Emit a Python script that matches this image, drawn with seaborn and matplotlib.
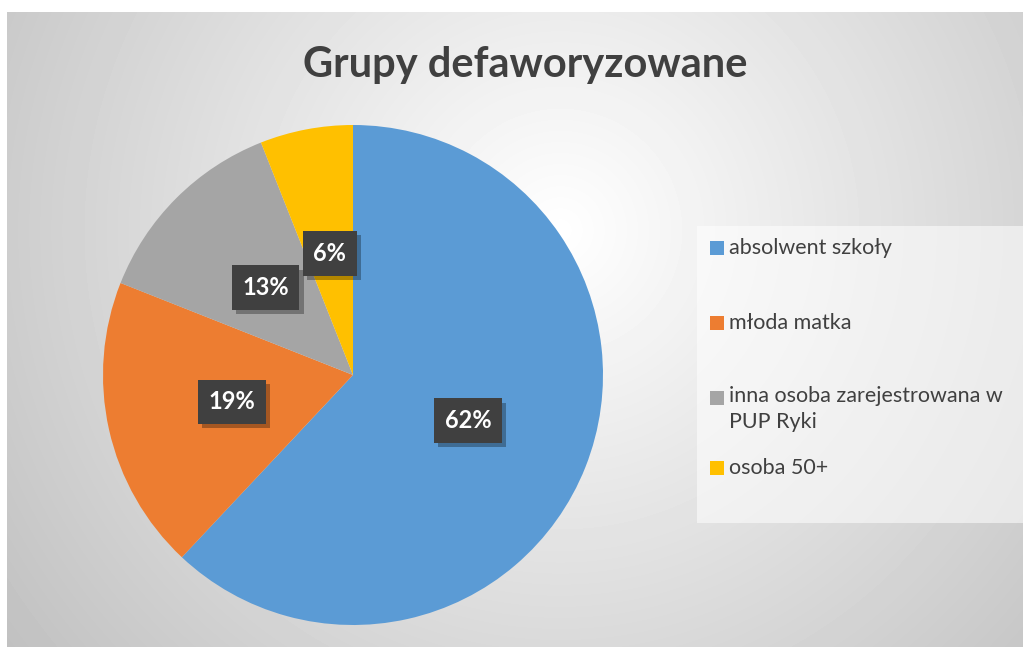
import numpy as np
import matplotlib
matplotlib.use("Agg")
import matplotlib.pyplot as plt
import matplotlib.patheffects as pe
from matplotlib.patches import Rectangle
import seaborn as sns

# ---- data ----
categories = ["absolwent szkoły", "młoda matka",
              "inna osoba zarejestrowana w\nPUP Ryki", "osoba 50+"]
values = [62, 19, 13, 6]
colors = ["#5B9BD5", "#ED7D31", "#A5A5A5", "#FFC000"]
title = "Grupy defaworyzowane"

sns.set_theme(style="white")
plt.rcParams["font.family"] = ["Lato", "DejaVu Sans"]

W, H = 1027, 647
fig = plt.figure(figsize=(W / 100, H / 100), dpi=100)
fig.patch.set_facecolor("white")

def fx(px):
    return px / W

def fy(py):
    return 1 - py / H

# background with radial gradient
x0, x1, y0, y1 = 7, 1023, 12, 647
bg = fig.add_axes([fx(x0), fy(y1), fx(x1 - x0), (y1 - y0) / H], zorder=0)
xx, yy = np.meshgrid(np.arange(x0, x1), np.arange(y0, y1))
d = np.sqrt((xx - 560) ** 2 + (yy - 230) ** 2)
v = np.clip(255 - 0.09 * d, 190, 255) / 255
bg.imshow(v, cmap="gray", vmin=0, vmax=1, aspect="auto", interpolation="bilinear")
bg.set_axis_off()

# title
fig.text(fx(525), fy(65), title, ha="center", va="center",
         fontsize=30, fontweight="bold", color="#404040", zorder=5)

# pie
cx, cy, r = 353, 375, 250
ax = fig.add_axes([fx(cx - r), fy(cy + r), 2 * r / W, 2 * r / H], zorder=2)
ax.set_facecolor("none")
wedges, texts, autotexts = ax.pie(
    values, colors=colors, startangle=90, counterclock=False,
    autopct=lambda p: f"{p:.0f}%", pctdistance=0.495,
    wedgeprops=dict(linewidth=0), radius=1,
    textprops=dict(color="white", fontsize=17, fontweight="bold"))
ax.set_xlim(-1, 1)
ax.set_ylim(-1, 1)
ax.set_aspect("auto")
for t in autotexts:
    t.set_bbox(dict(boxstyle="square,pad=0.45", facecolor="#404040", edgecolor="none"))
    t.get_bbox_patch().set_path_effects(
        [pe.withSimplePatchShadow(offset=(3, -3), shadow_rgbFace="black", alpha=0.3)])

# legend box
lx0, ly0, lx1, ly1 = 697, 226, 1025, 523
fig.patches.append(Rectangle((fx(lx0), fy(ly1)), fx(lx1 - lx0), (ly1 - ly0) / H,
                             transform=fig.transFigure, facecolor="white",
                             alpha=0.55, edgecolor="none", zorder=3))
entry_y = [248, 323, 398, 468]
for cat, col, ey in zip(categories, colors, entry_y):
    fig.patches.append(Rectangle((fx(710), fy(ey + 7)), fx(14), 14 / H,
                                 transform=fig.transFigure, facecolor=col,
                                 edgecolor="none", zorder=4))
    multi = "\n" in cat
    fig.text(fx(729), fy(ey - 12) if multi else fy(ey), cat, ha="left",
             va="top" if multi else "center",
             fontsize=15.5, color="#404040", zorder=5, linespacing=1.35)

fig.savefig("out.png", dpi=100, facecolor="white")
